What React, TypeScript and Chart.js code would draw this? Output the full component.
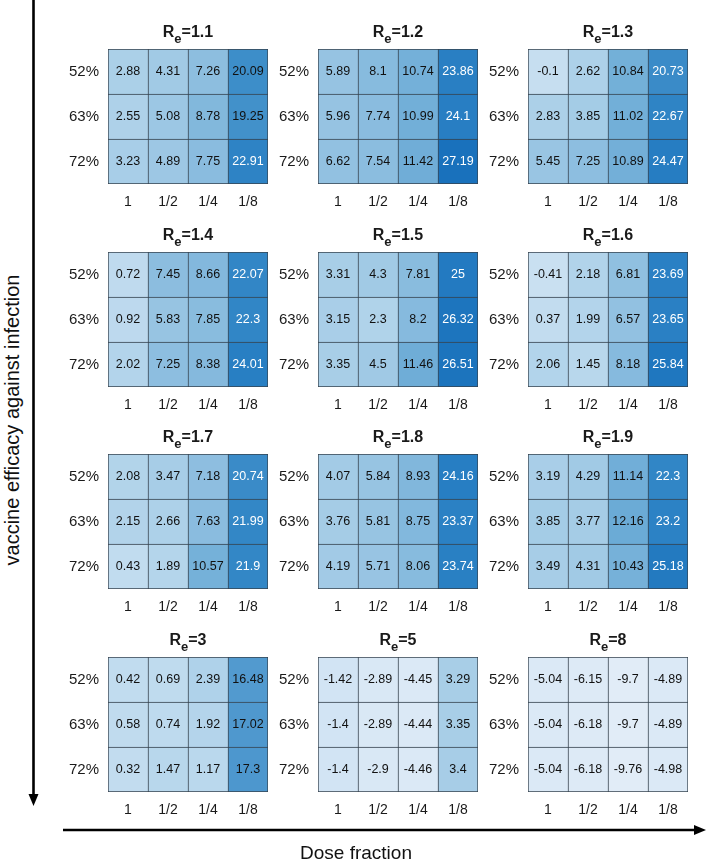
import React, { useEffect, useRef } from "react";
import { Chart, registerables } from "chart.js";

Chart.register(...registerables);

const FONT = "'Liberation Sans', Arial, Helvetica, sans-serif";

// ---------- data ----------
const efficacyLabels = ["52%", "63%", "72%"];
const doseLabels = ["1", "1/2", "1/4", "1/8"];
const reValues = ["1.1", "1.2", "1.3", "1.4", "1.5", "1.6", "1.7", "1.8", "1.9", "3", "5", "8"];

// rows: 52%, 63%, 72%; columns: dose 1, 1/2, 1/4, 1/8
const re11 = [[2.88, 4.31, 7.26, 20.09], [2.55, 5.08, 8.78, 19.25], [3.23, 4.89, 7.75, 22.91]];
const re12 = [[5.89, 8.1, 10.74, 23.86], [5.96, 7.74, 10.99, 24.1], [6.62, 7.54, 11.42, 27.19]];
const re13 = [[-0.1, 2.62, 10.84, 20.73], [2.83, 3.85, 11.02, 22.67], [5.45, 7.25, 10.89, 24.47]];
const re14 = [[0.72, 7.45, 8.66, 22.07], [0.92, 5.83, 7.85, 22.3], [2.02, 7.25, 8.38, 24.01]];
const re15 = [[3.31, 4.3, 7.81, 25], [3.15, 2.3, 8.2, 26.32], [3.35, 4.5, 11.46, 26.51]];
const re16 = [[-0.41, 2.18, 6.81, 23.69], [0.37, 1.99, 6.57, 23.65], [2.06, 1.45, 8.18, 25.84]];
const re17 = [[2.08, 3.47, 7.18, 20.74], [2.15, 2.66, 7.63, 21.99], [0.43, 1.89, 10.57, 21.9]];
const re18 = [[4.07, 5.84, 8.93, 24.16], [3.76, 5.81, 8.75, 23.37], [4.19, 5.71, 8.06, 23.74]];
const re19 = [[3.19, 4.29, 11.14, 22.3], [3.85, 3.77, 12.16, 23.2], [3.49, 4.31, 10.43, 25.18]];
const re3 = [[0.42, 0.69, 2.39, 16.48], [0.58, 0.74, 1.92, 17.02], [0.32, 1.47, 1.17, 17.3]];
const re5 = [[-1.42, -2.89, -4.45, 3.29], [-1.4, -2.89, -4.44, 3.35], [-1.4, -2.9, -4.46, 3.4]];
const re8 = [[-5.04, -6.15, -9.7, -4.89], [-5.04, -6.18, -9.7, -4.89], [-5.04, -6.18, -9.76, -4.98]];

const panelData = [re11, re12, re13, re14, re15, re16, re17, re18, re19, re3, re5, re8];

// ---------- colour map ----------
const cmapStops: [number, number, number, number][] = [
  [-10, 225, 236, 247],
  [-2, 216, 231, 245],
  [0, 197, 222, 240],
  [3, 170, 207, 232],
  [7, 143, 191, 224],
  [11, 114, 175, 216],
  [17, 79, 152, 206],
  [20, 62, 142, 201],
  [23, 45, 131, 197],
  [27.2, 25, 113, 188],
];

function colorFor(v: number): string {
  if (v <= cmapStops[0][0]) {
    const s = cmapStops[0];
    return `rgb(${s[1]},${s[2]},${s[3]})`;
  }
  for (let i = 1; i < cmapStops.length; i++) {
    const a = cmapStops[i - 1];
    const b = cmapStops[i];
    if (v <= b[0]) {
      const t = (v - a[0]) / (b[0] - a[0]);
      const c = [1, 2, 3].map((k) => Math.round(a[k] + (b[k] - a[k]) * t));
      return `rgb(${c[0]},${c[1]},${c[2]})`;
    }
  }
  const s = cmapStops[cmapStops.length - 1];
  return `rgb(${s[1]},${s[2]},${s[3]})`;
}

// ---------- layout ----------
const GRID_W = 160;
const GRID_H = 135;
const PAD_L = 62;
const PAD_T = 46;
const PAD_R = 8;
const AXIS_B = 34;
const CANVAS_W = PAD_L + GRID_W + PAD_R;
const CANVAS_H = PAD_T + GRID_H + AXIS_B;
const gridLefts = [108, 318, 528];
const gridTops = [49, 252, 454, 657];

const cellBorder = "#36434f";

const titlePlugin = {
  id: "reTitle",
  afterDraw(chart: any, _args: any, opts: any) {
    const { ctx, chartArea } = chart;
    const label: string = opts.label;
    ctx.save();
    ctx.fillStyle = "#1a1a1a";
    ctx.textBaseline = "alphabetic";
    ctx.textAlign = "left";
    const big = `bold 16px ${FONT}`;
    const small = `bold 13px ${FONT}`;
    ctx.font = big;
    const wR = ctx.measureText("R").width;
    const wRest = ctx.measureText("=" + label).width;
    ctx.font = small;
    const wE = ctx.measureText("e").width;
    const total = wR + wE + wRest;
    const cx = (chartArea.left + chartArea.right) / 2;
    let x = cx - total / 2;
    const base = chartArea.top - 12.5;
    ctx.font = big;
    ctx.fillText("R", x, base);
    x += wR;
    ctx.font = small;
    ctx.fillText("e", x, base + 6.5);
    x += wE;
    ctx.font = big;
    ctx.fillText("=" + label, x, base);
    ctx.restore();
  },
};

const cellTextPlugin = {
  id: "cellText",
  afterDatasetsDraw(chart: any) {
    const { ctx } = chart;
    ctx.save();
    ctx.font = `12.5px ${FONT}`;
    ctx.textAlign = "center";
    ctx.textBaseline = "middle";
    chart.data.datasets.forEach((ds: any, di: number) => {
      const meta = chart.getDatasetMeta(di);
      meta.data.forEach((el: any, i: number) => {
        const v: number = ds.cellValues[i];
        const y = (el.y + el.base) / 2;
        ctx.fillStyle = v > 20.5 ? "#ffffff" : "#111111";
        ctx.fillText(String(v), el.x, y + 0.5);
      });
    });
    ctx.restore();
  },
};

function Panel({ label, values, left, top }: { label: string; values: number[][]; left: number; top: number }) {
  const ref = useRef<HTMLCanvasElement>(null);
  useEffect(() => {
    if (!ref.current) return;
    // dataset 0 is the bottom row (72%), dataset 2 the top row (52%)
    const rowOrder = [2, 1, 0];
    const datasets = rowOrder.map((r, di) => ({
      label: efficacyLabels[r],
      data: doseLabels.map(() => 1),
      cellValues: values[r],
      backgroundColor: values[r].map(colorFor),
      borderColor: cellBorder,
      borderSkipped: false,
      borderWidth: (c: any) => ({
        top: 1,
        left: 1,
        right: c.dataIndex === doseLabels.length - 1 ? 1 : 0,
        bottom: di === 0 ? 1 : 0,
      }),
      barPercentage: 1,
      categoryPercentage: 1,
    }));
    const chart = new Chart(ref.current, {
      type: "bar",
      data: { labels: doseLabels, datasets: datasets as any },
      options: {
        animation: false,
        responsive: false,
        devicePixelRatio: 1,
        layout: { padding: { left: 0, top: PAD_T, right: PAD_R, bottom: 0 } },
        plugins: {
          legend: { display: false },
          title: { display: false },
          tooltip: { enabled: false },
          reTitle: { label },
        } as any,
        scales: {
          x: {
            stacked: true,
            grid: { display: false, drawTicks: false },
            border: { display: false },
            ticks: { color: "#1a1a1a", font: { family: FONT, size: 14 }, padding: 10, maxRotation: 0 },
            afterFit: (s: any) => {
              s.height = AXIS_B;
            },
          },
          y: {
            stacked: true,
            min: 0,
            max: 3,
            grid: { display: false, drawTicks: false },
            border: { display: false },
            afterBuildTicks: (s: any) => {
              s.ticks = [{ value: 0.5 }, { value: 1.5 }, { value: 2.5 }];
            },
            ticks: {
              color: "#1a1a1a",
              font: { family: FONT, size: 15 },
              padding: 9,
              callback: (v: any) => efficacyLabels[2 - Math.floor(Number(v))],
            },
            afterFit: (s: any) => {
              s.width = PAD_L;
            },
          },
        },
      },
      plugins: [titlePlugin, cellTextPlugin],
    });
    return () => chart.destroy();
  }, [label, values]);
  return (
    <canvas
      ref={ref}
      width={CANVAS_W}
      height={CANVAS_H}
      style={{ position: "absolute", left, top, width: CANVAS_W, height: CANVAS_H }}
    />
  );
}

export default function App() {
  return (
    <div
      style={{
        position: "absolute",
        left: 0,
        top: 0,
        width: 706,
        height: 863,
        background: "#ffffff",
        overflow: "hidden",
        fontFamily: FONT,
      }}
    >
      <svg width={706} height={863} style={{ position: "absolute", left: 0, top: 0 }}>
        <line x1={33.5} y1={0} x2={33.5} y2={796} stroke="#000" strokeWidth={2.6} />
        <polygon points="28.5,794 38.5,794 33.5,806" fill="#000" />
        <line x1={63} y1={830} x2={696} y2={830} stroke="#000" strokeWidth={2.6} />
        <polygon points="694,825 694,835 706,830" fill="#000" />
      </svg>
      {panelData.map((vals, i) => (
        <Panel
          key={i}
          label={reValues[i]}
          values={vals}
          left={gridLefts[i % 3] - PAD_L}
          top={gridTops[Math.floor(i / 3)] - PAD_T}
        />
      ))}
      <div
        style={{
          position: "absolute",
          left: 12,
          top: 420,
          transform: "translate(-50%, -50%) rotate(-90deg)",
          whiteSpace: "nowrap",
          fontSize: 20,
          color: "#111",
        }}
      >
        vaccine efficacy against infection
      </div>
      <div
        style={{
          position: "absolute",
          left: 356,
          top: 853,
          transform: "translate(-50%, -50%)",
          whiteSpace: "nowrap",
          fontSize: 19,
          color: "#111",
        }}
      >
        Dose fraction
      </div>
    </div>
  );
}
